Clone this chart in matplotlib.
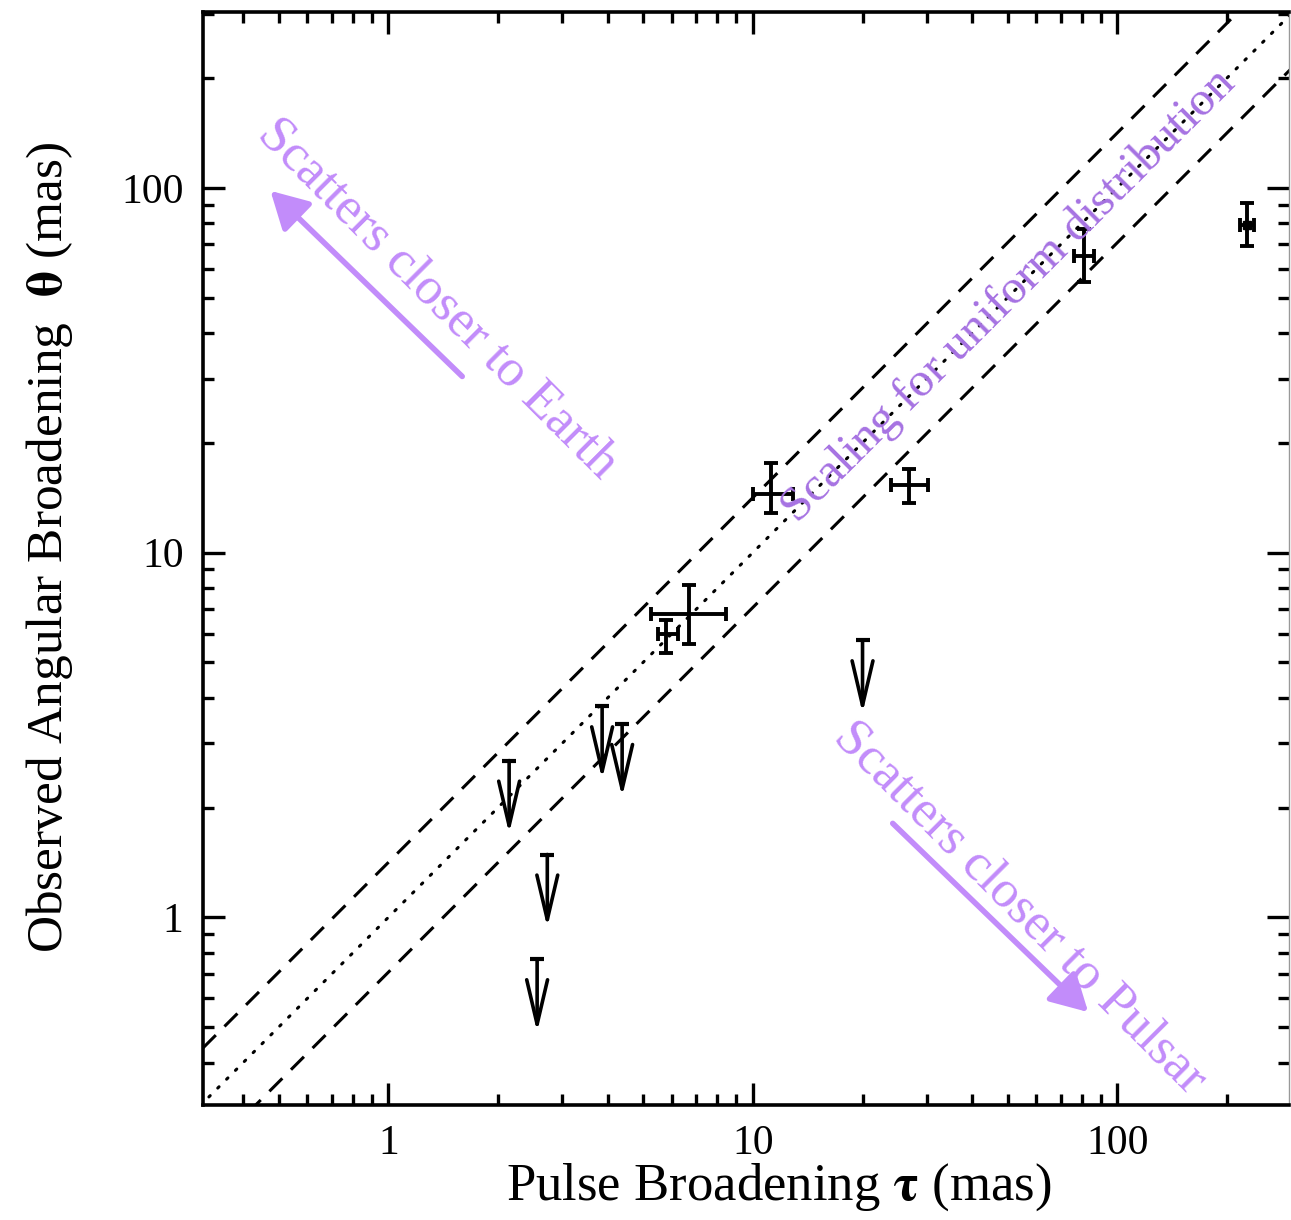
import numpy as np
import matplotlib
matplotlib.use("Agg")
import matplotlib.pyplot as plt

plt.rcParams['font.family'] = ['Liberation Serif', 'DejaVu Serif']
plt.rcParams['mathtext.fontset'] = 'stix'

# measured points (mas)
tau = [11.2, 26.9, 81.2, 227.0, 6.68, 5.77]
tau_lo = [10.0, 23.9, 76.3, 217.0, 5.26, 5.49]
tau_hi = [12.9, 30.3, 86.5, 237.0, 8.43, 6.22]
theta = [14.5, 15.3, 65.2, 79.3, 6.77, 5.97]
theta_lo = [12.8, 13.7, 55.1, 69.4, 5.61, 5.30]
theta_hi = [17.6, 17.0, 76.9, 90.9, 8.13, 6.52]

# upper limits on theta
ul_tau = [2.145, 2.73, 2.56, 3.86, 4.38, 20.0]
ul_theta = [2.69, 1.487, 0.768, 3.79, 3.39, 5.75]

purple_light = '#c28cfa'
purple_dark = '#a672e2'

fig = plt.figure(figsize=(12.91, 12.2), dpi=100)
ax = fig.add_axes([0.1572, 0.0943, 0.8413, 0.8957])
ax.set_xscale('log')
ax.set_yscale('log')
ax.set_xlim(0.31, 296)
ax.set_ylim(0.306, 303)

# scaling lines
xx = np.array([0.1, 1000.0])
ax.plot(xx, xx, color='k', ls=(0, (0.6, 3.5)), lw=2.2, dash_capstyle='round')
ax.plot(xx, xx * np.sqrt(2), color='k', ls=(0, (6, 4)), lw=2.2)
ax.plot(xx, xx / np.sqrt(2), color='k', ls=(0, (6, 4)), lw=2.2)

# detections
t = np.array(tau); th = np.array(theta)
xerr = [t - np.array(tau_lo), np.array(tau_hi) - t]
yerr = [th - np.array(theta_lo), np.array(theta_hi) - th]
ax.errorbar(t, th, xerr=xerr, yerr=yerr, fmt='none', ecolor='k',
            elinewidth=2.8, capsize=5, capthick=2.8)
ax.plot(tau[3], theta[3], 's', color='k', ms=6)

# upper limits
for x, y in zip(ul_tau, ul_theta):
    ax.plot(x, y, '_', color='k', ms=10, mew=3)
    ax.annotate('', xy=(x, y * 10 ** -0.2), xytext=(x, y),
                arrowprops=dict(arrowstyle='->,head_length=3.2,head_width=0.75',
                                color='k', lw=2.6, shrinkA=0, shrinkB=0,
                                mutation_scale=10))

# annotations
ax.text(1.37, 49.5, 'Scatters closer to Earth', color=purple_light,
        fontsize=38, rotation=-45, ha='center', va='center',
        rotation_mode='anchor')
ax.annotate('', xy=(0.475, 98.1), xytext=(1.595, 30.4),
            arrowprops=dict(arrowstyle='-|>,head_length=0.9,head_width=0.5',
                            color=purple_light, lw=4, shrinkA=0, shrinkB=0,
                            mutation_scale=25))
ax.text(54.2, 1.06, 'Scatters closer to Pulsar', color=purple_light,
        fontsize=38, rotation=-45, ha='center', va='center',
        rotation_mode='anchor')
ax.annotate('', xy=(83.2, 0.55), xytext=(24.2, 1.81),
            arrowprops=dict(arrowstyle='-|>,head_length=0.9,head_width=0.5',
                            color=purple_light, lw=4, shrinkA=0, shrinkB=0,
                            mutation_scale=25))
ax.text(50.2, 50.5, 'Scaling for uniform distribution', color=purple_dark,
        fontsize=35, rotation=45, ha='center', va='center',
        rotation_mode='anchor')

# axes styling
for s in ax.spines.values():
    s.set_linewidth(2.6)
ax.spines['right'].set_linewidth(1.0)
ax.spines['right'].set_color('#999999')
ax.tick_params(which='both', direction='in', top=True, right=True,
               width=2.4, labelsize=30, pad=14)
ax.tick_params(which='major', length=16)
ax.tick_params(which='minor', length=8)
ax.set_xticks([1, 10, 100])
ax.set_xticklabels(['1', '10', '100'])
ax.set_yticks([1, 10, 100])
ax.set_yticklabels(['1', '10', '100'])

ax.set_xlabel('Pulse Broadening $\\mathbf{\\tau}$ (mas)', fontsize=38)
ax.set_ylabel('Observed Angular Broadening  $\\mathbf{\\theta}$ (mas)', fontsize=37)
ax.xaxis.set_label_coords(0.53, -0.052)
ax.yaxis.set_label_coords(-0.118, 0.51)

fig.savefig('out.png', dpi=100)
